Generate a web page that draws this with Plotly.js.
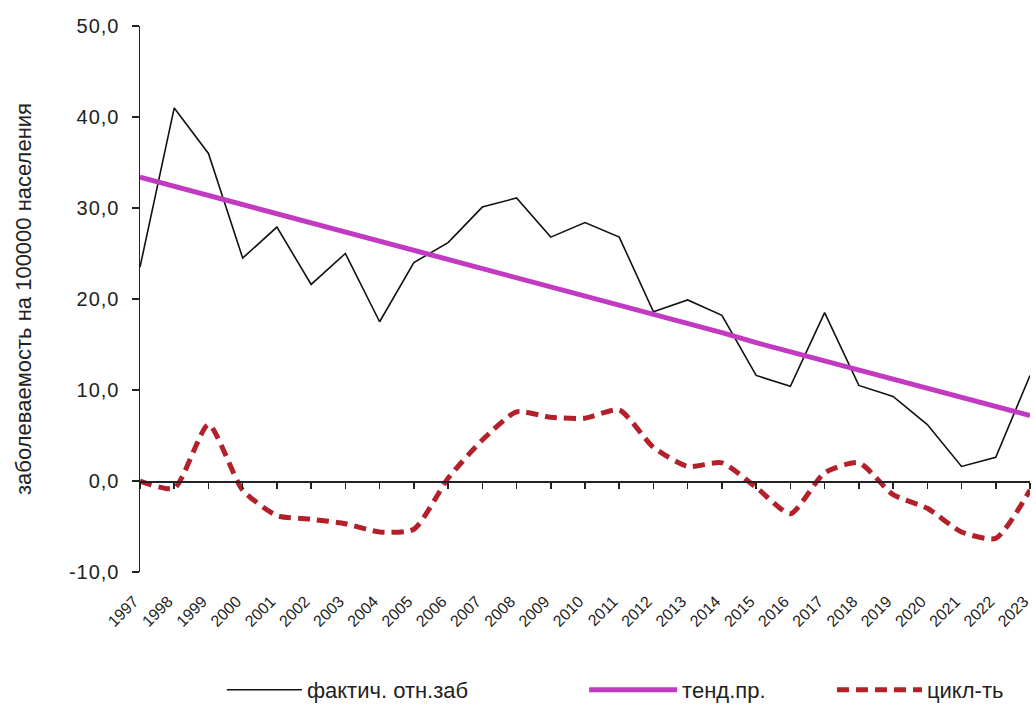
<!DOCTYPE html>
<html>
<head>
<meta charset="utf-8">
<script src="https://cdn.plot.ly/plotly-3.0.1.min.js"></script>
<style>
html,body{margin:0;padding:0;background:#fff;}
#chart{width:1036px;height:708px;}
#chart .ytick text{letter-spacing:1px;}
</style>
</head>
<body>
<div id="chart"></div>
<script>
const years = [1997,1998,1999,2000,2001,2002,2003,2004,2005,2006,2007,2008,2009,2010,2011,2012,2013,2014,2015,2016,2017,2018,2019,2020,2021,2022,2023];
const yearLabels = years.map(String);
const yTickVals = [-10,0,10,20,30,40,50];
const yTickText = ['-10,0','0,0','10,0','20,0','30,0','40,0','50,0'];
const factual = [23.5,41.0,36.0,24.5,27.9,21.6,25.0,17.5,24.0,26.2,30.1,31.1,26.8,28.4,26.8,18.6,19.9,18.2,11.6,10.4,18.5,10.5,9.3,6.2,1.6,2.6,11.6];
const trend = [33.4,32.4,31.4,30.4,29.4,28.4,27.3,26.3,25.3,24.3,23.3,22.3,21.3,20.3,19.3,18.3,17.3,16.3,15.2,14.2,13.2,12.2,11.2,10.2,9.2,8.2,7.2];
const cycle = [0.0,-0.8,6.2,-1.0,-3.8,-4.2,-4.7,-5.6,-5.3,0.3,4.5,7.6,7.0,6.9,7.8,3.7,1.6,2.0,-0.7,-3.6,0.9,2.0,-1.5,-3.0,-5.6,-6.3,-1.0];
const seriesNames = ['фактич. отн.заб','тенд.пр.','цикл-ть'];
const yTitle = 'заболеваемость на 100000 населения';

const legendFont = {family: 'Liberation Sans, Arial, sans-serif', size: 22, color: '#222'};

const traces = [
  {x: years, y: factual, name: seriesNames[0], type: 'scatter', mode: 'lines', legend: 'legend',
   line: {color: '#111111', width: 1.6}},
  {x: years, y: trend, name: seriesNames[1], type: 'scatter', mode: 'lines', legend: 'legend2',
   line: {color: '#c23ac2', width: 5}},
  {x: years, y: cycle, name: seriesNames[2], type: 'scatter', mode: 'lines', legend: 'legend3',
   line: {color: '#b3202a', width: 5, dash: '12px,7px', shape: 'spline', smoothing: 0.6}},
  // empty trace so the zero-level axis (with its tick marks) is drawn
  {x: [years[0]], y: [null], xaxis: 'x2', type: 'scatter', mode: 'lines', showlegend: false, hoverinfo: 'skip'}
];

const layout = {
  width: 1036, height: 708,
  margin: {l: 140, r: 6, t: 26, b: 136, autoexpand: false},
  paper_bgcolor: '#ffffff', plot_bgcolor: '#ffffff',
  font: {family: 'Liberation Sans, Arial, sans-serif', color: '#222222'},
  showlegend: true,
  legend:  {orientation: 'h', x: 0.092, xanchor: 'left', y: -0.216, yanchor: 'middle', font: legendFont, itemwidth: 75, bgcolor: 'rgba(0,0,0,0)'},
  legend2: {orientation: 'h', x: 0.499, xanchor: 'left', y: -0.216, yanchor: 'middle', font: legendFont, itemwidth: 88, bgcolor: 'rgba(0,0,0,0)'},
  legend3: {orientation: 'h', x: 0.7775, xanchor: 'left', y: -0.216, yanchor: 'middle', font: legendFont, itemwidth: 85, bgcolor: 'rgba(0,0,0,0)'},
  xaxis: {range: [1997, 2023], tickmode: 'array', tickvals: years, ticktext: yearLabels,
          tickangle: -45, showline: false, ticks: '', showgrid: false, zeroline: false,
          ticklabelstandoff: 16, ticklabelshift: -6, automargin: false, ticklabeloverflow: 'allow',
          tickfont: {size: 16, color: '#222'}},
  xaxis2: {range: [1997, 2023], overlaying: 'x', anchor: 'free', position: 10/60,
           showline: true, linecolor: '#222', linewidth: 1.5, ticks: 'outside', ticklen: 6,
           tickcolor: '#222', tickwidth: 1.5, tickmode: 'array', tickvals: years, showticklabels: false,
           showgrid: false, zeroline: false},
  yaxis: {range: [-10, 50], tickmode: 'array', tickvals: yTickVals, ticktext: yTickText,
          showline: true, automargin: false,
          linecolor: '#222', linewidth: 1.5, ticks: 'outside', ticklen: 7, tickcolor: '#222', tickwidth: 1.5,
          ticklabelstandoff: 8,
          showgrid: false, zeroline: false, tickfont: {size: 20, color: '#222'},
          title: {text: yTitle, font: {size: 22, color: '#222'}, standoff: 36}}
};

Plotly.newPlot('chart', traces, layout, {displayModeBar: false, staticPlot: true});
</script>
</body>
</html>
